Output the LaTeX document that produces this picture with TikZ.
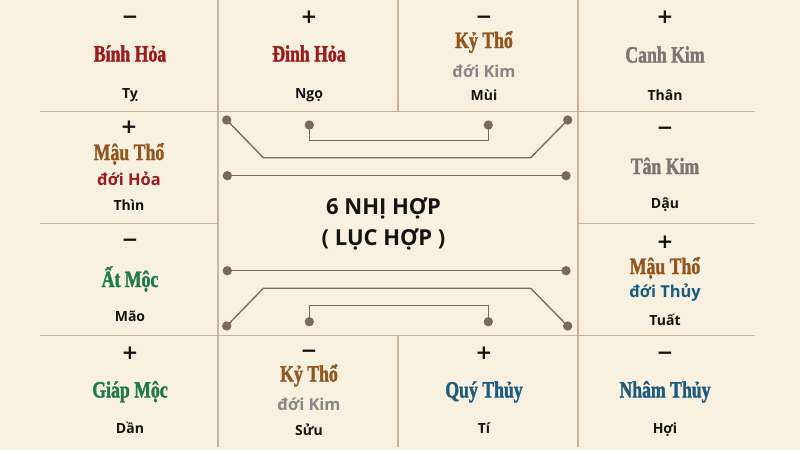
\documentclass[tikz,border=0pt]{standalone}
\usepackage{fontspec}
\setmainfont{Open Sans}
\newfontfamily\elemfont[FakeStretch=0.76, FakeBold=1.6]{Liberation Serif Bold}
\newfontfamily\signfont{DejaVu Sans}
\definecolor{bgc}{HTML}{F8F0E1}
\definecolor{gridc}{HTML}{C9B59C}
\definecolor{wirec}{HTML}{7A695C}
\definecolor{firec}{HTML}{9C1B1B}
\definecolor{earthc}{HTML}{94561C}
\definecolor{metalc}{HTML}{7A7674}
\definecolor{metalsub}{HTML}{878787}
\definecolor{woodc}{HTML}{1F7A4C}
\definecolor{waterc}{HTML}{1F5B7D}
\definecolor{inkc}{HTML}{141414}
\tikzset{
  elem/.style={font=\elemfont\fontsize{17.5}{20}\selectfont, inner sep=0pt, anchor=base},
  lbl/.style={font=\bfseries\fontsize{10.5}{12}\selectfont, text=inkc, inner sep=0pt, anchor=base},
  subl/.style={font=\bfseries\fontsize{12.3}{14}\selectfont, inner sep=0pt, anchor=base},
  sgn/.style={font=\signfont\bfseries\fontsize{15}{17}\selectfont, text=inkc, inner sep=0pt, anchor=base},
  ttl/.style={font=\bfseries\fontsize{16.5}{18}\selectfont, text=inkc, inner sep=0pt, anchor=base},
  gridline/.style={draw=gridc, line width=1pt},
  wire/.style={draw=wirec, line width=1pt},
  dot/.style={circle, fill=wirec, minimum size=7pt, inner sep=0pt}
}
\begin{document}
\begin{tikzpicture}[x=0.75pt, y=-0.75pt]
\fill[bgc] (0,0) rectangle (800,450);
\useasboundingbox (0,0) rectangle (800,450);
% grid
\draw[gridline] (40,111.5) -- (755,111.5);
\draw[gridline] (40,335.5) -- (755,335.5);
\draw[gridline] (40,223.5) -- (218,223.5);
\draw[gridline] (578,223.5) -- (755,223.5);
\draw[gridline] (218,0) -- (218,447);
\draw[gridline] (578,0) -- (578,447);
\draw[gridline] (398,0) -- (398,111.5);
\draw[gridline] (398,335.5) -- (398,447);
% wires (drawn first, dots on top)
\coordinate (a1) at (226.7,120);
\coordinate (a2) at (567.7,120);
\coordinate (b1) at (309.3,125);
\coordinate (b2) at (488.3,125);
\coordinate (c1) at (227.3,175.7);
\coordinate (c2) at (566,175.7);
\coordinate (d1) at (227.3,270.7);
\coordinate (d2) at (566,270.7);
\coordinate (e1) at (226.7,326);
\coordinate (e2) at (567.7,326);
\coordinate (f1) at (309.3,321.7);
\coordinate (f2) at (488.3,321.7);
\draw[wire] (a1) -- (263.3,157.7) -- (530.7,157.7) -- (a2);
\draw[wire] (b1) -- (309.3,140.7) -- (488.3,140.7) -- (b2);
\draw[wire] (c1) -- (c2);
\draw[wire] (d1) -- (d2);
\draw[wire] (e1) -- (263.3,288.3) -- (530.7,288.3) -- (e2);
\draw[wire] (f1) -- (309.3,305.7) -- (488.3,305.7) -- (f2);
\foreach \n in {a1,a2,b1,b2,c1,c2,d1,d2,e1,e2,f1,f2} \node[dot] (dot\n) at (\n) {};
% title
\node[ttl] (t1) at (383.5,214.3) {6 NHỊ HỢP};
\node[ttl] (t2) at (383.5,245.7) {( LỤC HỢP )};
% row 1
\node[sgn] (s11) at (130,23.5) {−};
\node[elem, text=firec] (n11) at (130,61.5) {Bính Hỏa};
\node[lbl] (l11) at (130,98.5) {Tỵ};
\node[sgn] (s12) at (309,23.5) {+};
\node[elem, text=firec] (n12) at (309,61.5) {Đinh Hỏa};
\node[lbl] (l12) at (309,98.5) {Ngọ};
\node[sgn] (s13) at (484,23.5) {−};
\node[elem, text=earthc] (n13) at (484,48) {Kỷ Thổ};
\node[subl, text=metalsub] (u13) at (484,77) {đới Kim};
\node[lbl] (l13) at (484,100) {Mùi};
\node[sgn] (s14) at (665,23.5) {+};
\node[elem, text=metalc] (n14) at (665,62.5) {Canh Kim};
\node[lbl] (l14) at (665,100.5) {Thân};
% row 2
\node[sgn] (s21) at (129,133.5) {+};
\node[elem, text=earthc] (n21) at (129,160) {Mậu Thổ};
\node[subl, text=firec] (u21) at (129,185.5) {đới Hỏa};
\node[lbl] (l21) at (129,210.5) {Thìn};
\node[sgn] (s24) at (665,134.5) {−};
\node[elem, text=metalc] (n24) at (665,174) {Tân Kim};
\node[lbl] (l24) at (665,208.5) {Dậu};
% row 3
\node[sgn] (s31) at (130,246.5) {−};
\node[elem, text=woodc] (n31) at (130,287) {Ất Mộc};
\node[lbl] (l31) at (130,321.5) {Mão};
\node[sgn] (s34) at (665,248.5) {+};
\node[elem, text=earthc] (n34) at (665,274) {Mậu Thổ};
\node[subl, text=waterc] (u34) at (665,297.5) {đới Thủy};
\node[lbl] (l34) at (665,325) {Tuất};
% row 4
\node[sgn] (s41) at (130,359.5) {+};
\node[elem, text=woodc] (n41) at (130,397.5) {Giáp Mộc};
\node[lbl] (l41) at (130,433) {Dần};
\node[sgn] (s42) at (309,357.5) {−};
\node[elem, text=earthc] (n42) at (309,381.5) {Kỷ Thổ};
\node[subl, text=metalsub] (u42) at (309,410) {đới Kim};
\node[lbl] (l42) at (309,435) {Sửu};
\node[sgn] (s43) at (484,359.5) {+};
\node[elem, text=waterc] (n43) at (484,397.5) {Quý Thủy};
\node[lbl] (l43) at (484,433) {Tí};
\node[sgn] (s44) at (665,359.5) {−};
\node[elem, text=waterc] (n44) at (665,397.5) {Nhâm Thủy};
\node[lbl] (l44) at (665,433) {Hợi};
\end{tikzpicture}
\end{document}
